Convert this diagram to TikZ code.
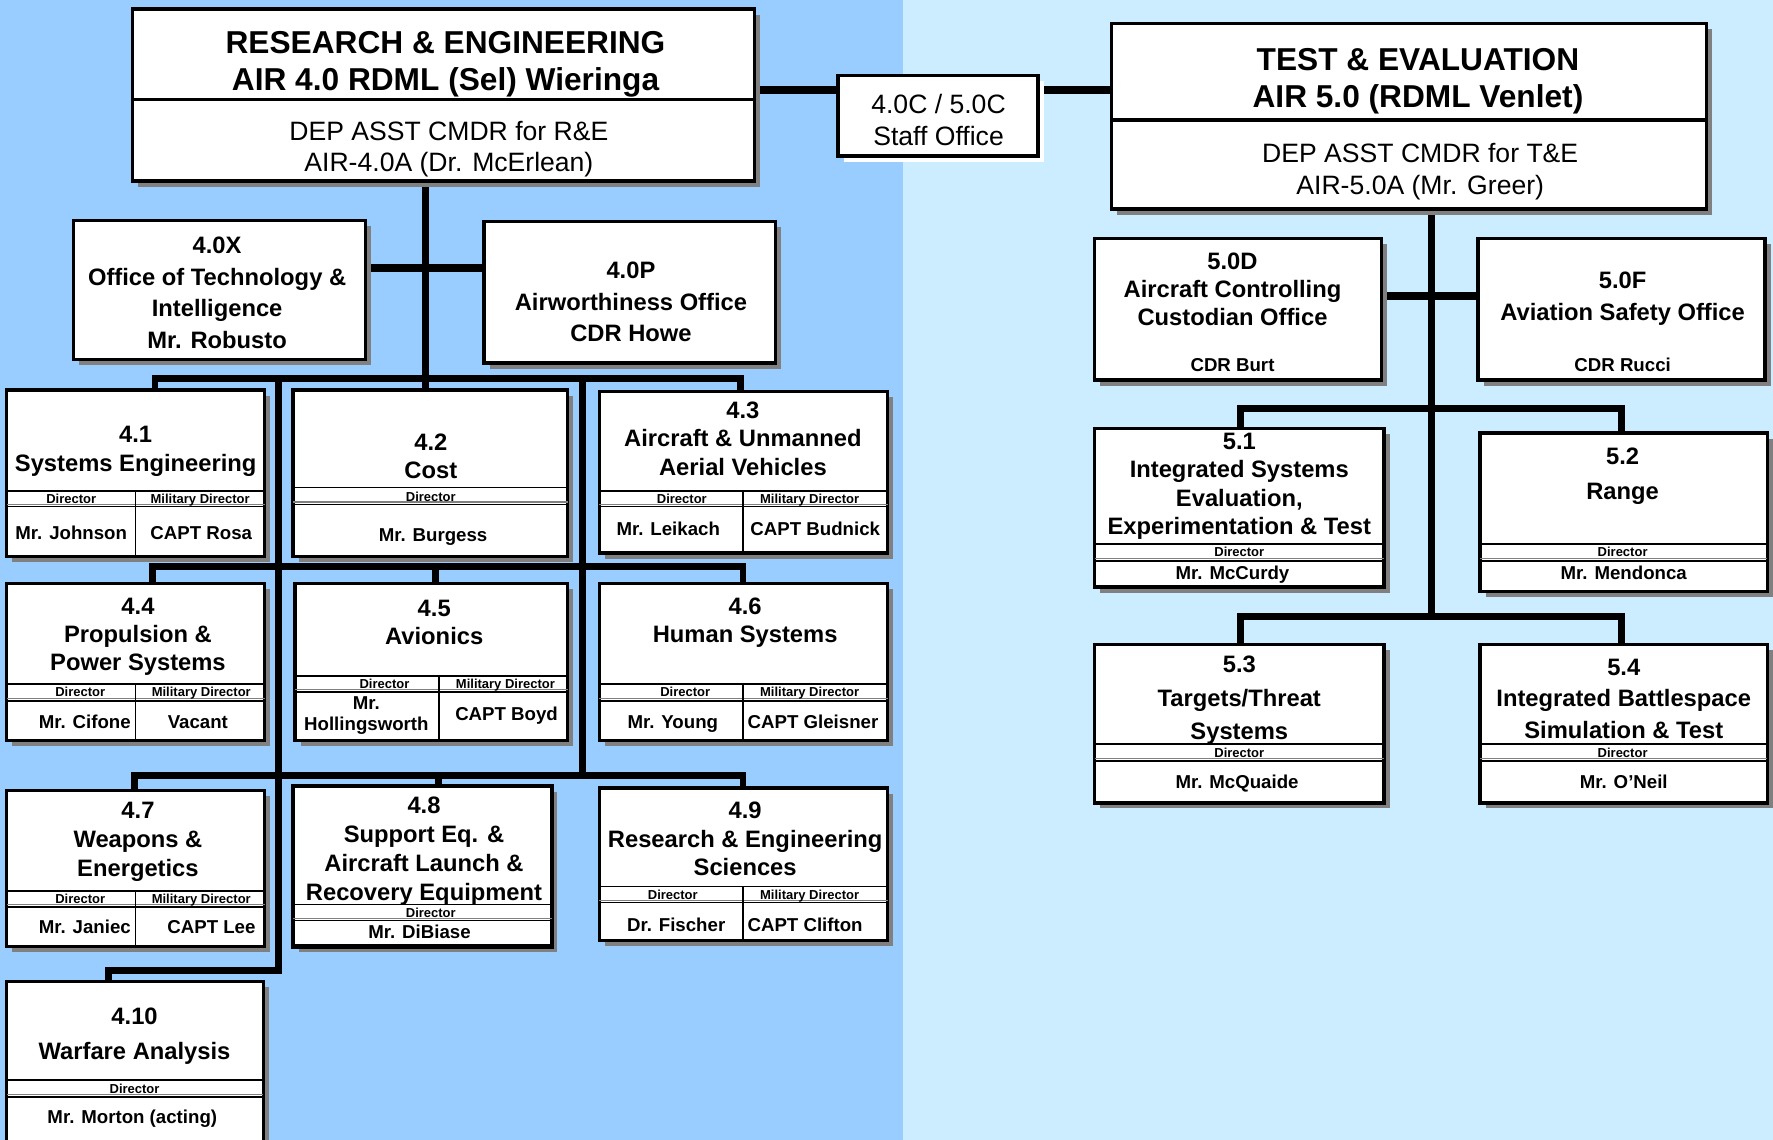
\documentclass[tikz,border=0pt]{standalone}
\usepackage{fontspec}
\setmainfont{Liberation Sans}
\definecolor{leftbg}{HTML}{99CCFF}
\definecolor{rightbg}{HTML}{CCECFF}
\definecolor{shd}{HTML}{808080}
\pgfdeclarelayer{bg}
\pgfsetlayers{bg,main}
\newcommand\ubox[6][]{%
  \fill[shd,#1] ({#3+5},{#4+5}) rectangle ({#5+5},{#6+5});
  \node[box,#1,minimum width={(#5-#3)*1pt},minimum height={(#6-#4)*1pt}] (#2) at ({(#3+#5)/2},{(#4+#6)/2}) {};}
\newcommand\hrow[4]{%
  \draw[line width=1.4pt] (#1,#3) -- (#2,#3);
  \draw[line width=1pt,shd] (#1,{#4-2}) -- (#2,{#4-2});
  \draw[line width=1.4pt] (#1,#4) -- (#2,#4);}
\newcommand\vcol[3]{\draw[line width=1.4pt] (#1,#2) -- (#1,#3);}
\newcommand\tx[4][ut]{\node[#1] (#2) at (#3) {#4};}
\begin{document}
\begin{tikzpicture}[x=1pt,y=-1pt,
  box/.style={draw,line width=3pt,fill=white,inner sep=0pt,rectangle},
  ttl/.style={font=\fontsize{28}{33}\selectfont\bfseries,align=center,inner sep=0pt,yshift=-4pt},
  sub/.style={font=\fontsize{23.5}{28}\selectfont,align=center,inner sep=0pt,yshift=-2pt},
  ut/.style={font=\fontsize{21}{#1}\selectfont\bfseries,align=center,inner sep=0pt,yshift=-3pt},
  ut/.default=25.5,
  hd/.style={font=\fontsize{11.5}{13}\selectfont\bfseries,inner sep=0pt,text height=8.3pt,text depth=0pt},
  nm/.style={font=\fontsize{16.5}{19}\selectfont\bfseries,inner sep=0pt,text height=11.8pt,text depth=0pt},
  nm2/.style={font=\fontsize{16.5}{19}\selectfont\bfseries,inner sep=0pt,align=center},
  bus/.style={line width=6pt,line join=miter},
  link/.style={line width=7pt}]
\clip (0,0) rectangle (1568,1008);
\begin{pgfonlayer}{bg}
\fill[leftbg] (0,0) rectangle (799,1008);
\fill[rightbg] (799,0) rectangle (1568,1008);
\end{pgfonlayer}

% ---------- top boxes ----------
\ubox{re}{117}{8}{667}{160}
\draw[line width=3pt] (117,88) -- (667,88);
\tx[ttl]{reT}{394,53}{RESEARCH \& ENGINEERING\\AIR 4.0 RDML (Sel) Wieringa}
\tx[sub]{reS}{397,130}{DEP ASST CMDR for R\&E\\AIR-4.0A (Dr. McErlean)}

\ubox[fill=white]{staff}{741}{67}{918}{138}
\tx[sub,yshift=2pt]{staffT}{830,106}{4.0C / 5.0C\\Staff Office}

\ubox{te}{983}{21}{1509}{185}
\draw[line width=3pt] (983,106) -- (1509,106);
\tx[ttl]{teT}{1254,68}{TEST \& EVALUATION\\AIR 5.0 (RDML Venlet)}
\tx[sub]{teS}{1256,150}{DEP ASST CMDR for T\&E\\AIR-5.0A (Mr. Greer)}

% ---------- 4.0X / 4.0P ----------
\ubox{ox}{65}{195}{323}{318}
\tx[ut=28]{oxT}{192,256}{4.0X\\Office of Technology \&\\Intelligence\\Mr. Robusto}
\ubox{op}{428}{196}{686}{321}
\tx[ut=28]{opT}{558,264}{4.0P\\Airworthiness Office\\CDR Howe}

% ---------- row 1 ----------
\ubox{n41}{6}{345}{234}{492}
\hrow{6}{234}{434}{448}\vcol{120}{434}{492}
\tx[ut=26]{n41T}{120,396}{4.1\\Systems Engineering}
\tx[hd]{n41h1}{63,441}{Director}
\tx[hd]{n41h2}{177,441}{Military Director}
\tx[nm]{n41a}{63,471}{Mr. Johnson}
\tx[nm]{n41b}{178,471}{CAPT Rosa}

\ubox{n42}{259}{345}{502}{492}
\hrow{259}{502}{431}{446}
\tx[ut=25]{n42T}{381,400.5}{4.2\\Cost}
\tx[hd]{n42h}{381,439}{Director}
\tx[nm]{n42a}{383,473}{Mr. Burgess}

\ubox{n43}{530}{346}{785}{489}
\hrow{530}{785}{434}{448}\vcol{657}{434}{489}
\tx[ut=25]{n43T}{657,385}{4.3\\Aircraft \& Unmanned\\Aerial Vehicles}
\tx[hd]{n43h1}{603,441}{Director}
\tx[hd]{n43h2}{716,441}{Military Director}
\tx[nm]{n43a}{591,468}{Mr. Leikach}
\tx[nm]{n43b}{721,468}{CAPT Budnick}

% ---------- row 2 ----------
\ubox{n44}{6}{516}{234}{655}
\hrow{6}{234}{605}{620}\vcol{120}{605}{655}
\tx[ut=25]{n44T}{122,560}{4.4\\Propulsion \&\\Power Systems}
\tx[hd]{n44h1}{71,612}{Director}
\tx[hd]{n44h2}{178,612}{Military Director}
\tx[nm]{n44a}{75,638}{Mr. Cifone}
\tx[nm]{n44b}{175,638}{Vacant}

\ubox{n45}{261}{516}{502}{655}
\hrow{261}{502}{598}{612}\vcol{388}{598}{655}
\tx[ut=25]{n45T}{384,547.5}{4.5\\Avionics}
\tx[hd]{n45h1}{340,605}{Director}
\tx[hd]{n45h2}{447,605}{Military Director}
\tx[nm2]{n45a}{324,633}{Mr.\\Hollingsworth}
\tx[nm]{n45b}{448,631}{CAPT Boyd}

\ubox{n46}{530}{516}{785}{655}
\hrow{530}{785}{605}{620}\vcol{657}{605}{655}
\tx[ut=25]{n46T}{659,547.5}{4.6\\Human Systems}
\tx[hd]{n46h1}{606,612}{Director}
\tx[hd]{n46h2}{716,612}{Military Director}
\tx[nm]{n46a}{595,638}{Mr. Young}
\tx[nm]{n46b}{719,638}{CAPT Gleisner}

% ---------- row 3 ----------
\ubox{n47}{6}{699}{234}{837}
\hrow{6}{234}{788}{802}\vcol{120}{788}{837}
\tx[ut=25.5]{n47T}{122,741.5}{4.7\\Weapons \&\\Energetics}
\tx[hd]{n47h1}{71,795}{Director}
\tx[hd]{n47h2}{178,795}{Military Director}
\tx[nm]{n47a}{75,820}{Mr. Janiec}
\tx[nm]{n47b}{187,820}{CAPT Lee}

\ubox[line width=4pt]{n48}{259}{695}{488}{837}
\hrow{259}{488}{800}{814}
\tx[ut=25.7]{n48T}{375,749.5}{4.8\\Support Eq. \&\\Aircraft Launch \&\\Recovery Equipment}
\tx[hd]{n48h}{381,807}{Director}
\tx[nm]{n48a}{371,824}{Mr. DiBiase}

\ubox{n49}{530}{697}{785}{832}
\hrow{530}{785}{784}{798}\vcol{657}{784}{832}
\tx[ut=25]{n49T}{659,739}{4.9\\Research \& Engineering\\Sciences}
\tx[hd]{n49h1}{595,791}{Director}
\tx[hd]{n49h2}{716,791}{Military Director}
\tx[nm]{n49a}{598,818}{Dr. Fischer}
\tx[nm]{n49b}{712,818}{CAPT Clifton}

\ubox{n410}{6}{868}{233}{1030}
\hrow{6}{233}{955}{970}
\tx[ut=31]{n410T}{119,913.5}{4.10\\Warfare Analysis}
\tx[hd]{n410h}{119,963}{Director}
\tx[nm]{n410a}{117,988}{Mr. Morton (acting)}

% ---------- right side ----------
\ubox{d5}{968}{211}{1222}{336}
\tx[ut=25]{d5T}{1090,253}{5.0D\\Aircraft Controlling\\Custodian Office}
\tx[nm]{d5a}{1090,323}{CDR Burt}
\ubox{f5}{1307}{211}{1561}{336}
\tx[ut=28]{f5T}{1435,261}{5.0F\\Aviation Safety Office}
\tx[nm]{f5a}{1435,323}{CDR Rucci}

\ubox{n51}{968}{379}{1224}{519}
\hrow{968}{1224}{481}{496}
\tx[ut=25.3]{n51T}{1096,427}{5.1\\Integrated Systems\\Evaluation,\\Experimentation \& Test}
\tx[hd]{n51h}{1096,488}{Director}
\tx[nm]{n51a}{1090,507}{Mr. McCurdy}

\ubox{n52}{1309}{383}{1563}{523}
\hrow{1309}{1563}{481}{496}
\tx[ut=31]{n52T}{1435,418.5}{5.2\\Range}
\tx[hd]{n52h}{1435,488}{Director}
\tx[nm]{n52a}{1436,507}{Mr. Mendonca}

\ubox{n53}{968}{570}{1224}{710}
\hrow{968}{1224}{658}{673}
\tx[ut=29.5]{n53T}{1096,616.5}{5.3\\Targets/Threat\\Systems}
\tx[hd]{n53h}{1096,666}{Director}
\tx[nm]{n53a}{1094,691}{Mr. McQuaide}

\ubox{n54}{1309}{570}{1563}{710}
\hrow{1309}{1563}{658}{673}
\tx[ut=28]{n54T}{1436,615}{5.4\\Integrated Battlespace\\Simulation \& Test}
\tx[hd]{n54h}{1435,666}{Director}
\tx[nm]{n54a}{1436,691}{Mr. O’Neil}

% ---------- connectors ----------
\begin{pgfonlayer}{bg}
\coordinate (L1) at (376,335);
\coordinate (L2) at (246,335);
\coordinate (L3) at (515,335);
\coordinate (L4) at (246,858);
\coordinate (R1) at (1266,361);
\coordinate (R2) at (1266,545);
\draw[link] (re.east |- 0,80) -- (staff.west |- 0,80);
\draw[link] (staff.east |- 0,80) -- (te.west |- 0,80);
\draw[bus] (re.south -| L1) -- (L1);
\draw[link] (ox.east |- 0,237) -- (op.west |- 0,237);
\draw[bus] (n41.north -| 137,0) -- (137,335) -- (655,335) -- (n43.north -| 655,0);
\draw[bus] (L1) -- (n42.north -| L1);
\draw[bus] (L2) -- (L4) -- (96,858) -- (n410.north -| 96,0);
\draw[bus] (L3) -- (515,686);
\draw[bus] (n44.north -| 135,0) -- (135,501) -- (657,501) -- (n46.north -| 657,0);
\draw[bus] (385,501) -- (n45.north -| 385,0);
\draw[bus] (n47.north -| 119,0) -- (119,686) -- (657,686) -- (n49.north -| 657,0);
\draw[bus] (388,686) -- (n48.north -| 388,0);
\draw[bus] (te.south -| R1) -- (R2);
\draw[link] (d5.east |- 0,262) -- (f5.west |- 0,262);
\draw[bus] (n51.north -| 1097,0) -- (1097,361) -- (1434,361) -- (n52.north -| 1434,0);
\draw[bus] (n53.north -| 1097,0) -- (1097,545) -- (1434,545) -- (n54.north -| 1434,0);
\end{pgfonlayer}
\end{tikzpicture}
\end{document}
